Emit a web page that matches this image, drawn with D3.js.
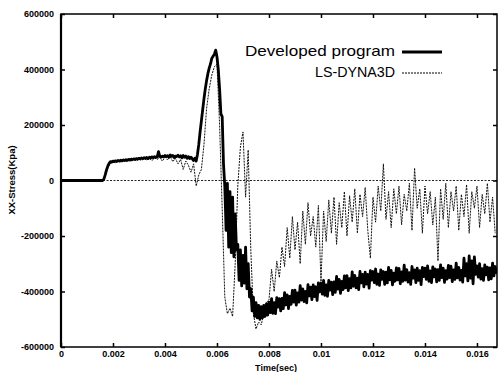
<!DOCTYPE html>
<html>
<head>
<meta charset="utf-8">
<script src="https://cdn.jsdelivr.net/npm/d3@7"></script>
<style>
  html, body { margin: 0; padding: 0; background: #fff; }
  svg { display: block; }
</style>
</head>
<body>
<div id="chart"></div>
<script>
// x ticks / y ticks
const timeTicks = [0, 0.002, 0.004, 0.006, 0.008, 0.01, 0.012, 0.014, 0.016];
const stressTicks = [-600000, -400000, -200000, 0, 200000, 400000, 600000];
const legendNames = ["Developed program", "LS-DYNA3D"];

// Developed program, sampled every 0.00005 s, values in thousands of kPa
const devStep = 0.00005;
const developedK = [
  0,0,0,0,0,0,0,0,0,0, 0,0,0,0,0,0,0,0,0,0, 0,0,0,0,0,0,0,0,0,0, 0,0,0,
  5,20,38,52,62,68,66,70,
  68,71,69,72,70,73,71,74,72,75,
  73,76,74,77,75,78,76,79,77,80,
  78,81,79,82,80,83,79,84,81,85,
  82,86,83,84,104,87,84,88,85,90,
  86,89,84,92,87,90,83,88,86,91,
  85,89,82,90,84,88,80,86,79,84,
  78,72,80,70,95,130,175,215,255,295,
  330,360,385,405,420,440,448,455,470,445,
  400,330,240,230,60,-20,-180,-10,-240,-40,
  -260,-60,-275,-120,-250,-230,-360,-250,-380,-270,
  -370,-240,-390,-300,-420,-390,-470,-420,-490,-440,
  -495,-450,-500,-455,-495,-450,-490,-445,-485,
  // 0.008 onward
  -438,-476,-426,-479,-440,-480,-422,-456,-426,-470,
  -425,-462,-404,-448,-412,-462,-418,-446,-396,-438,
  -395,-449,-405,-438,-379,-431,-391,-436,-400,-441,
  -375,-416,-384,-429,-376,-418,-383,-432,-369,-401,
  -370,-409,-360,-414,-376,-417,-360,-395,-366,-411,
  -365,-403,-346,-391,-356,-407,-364,-393,-344,-387,
  -343,-397,-354,-387,-329,-381,-342,-387,-352,-393,
  -328,-369,-338,-383,-330,-373,-338,-388,-325,-359,
  -328,-368,-319,-374,-337,-378,-322,-356,-328,-374,
  -330,-369,-313,-358,-324,-376,-334,-363,-315,-358,
  -317,-372,-329,-363,-305,-359,-321,-366,-332,-374,
  -310,-352,-322,-368,-316,-360,-325,-375,-313,-346,
  -316,-356,-308,-363,-326,-368,-311,-347,-319,-365,
  -321,-360,-304,-350,-316,-367,-325,-355,-306,-350,
  -309,-364,-322,-356,-298,-351,-313,-359,-324,-366,
  -280,-344,-300,-362,-272,-352,-290,-372,-275,-338,
  -308,-348,-300,-355,-318,-360,-304,-340,-312,-358,
  -315,-354,-298,-344,-310,-336
];

// LS-DYNA3D, sampled every 0.0001 s, values in thousands of kPa
const lsStep = 0.0001;
const lsDynaK = [
  0,0,0,0,0,0,0,0,0,0, 0,0,0,0,0,0,0,
  15,45,62,66,
  64,70,66,72,68,74,70,75,71,77,
  73,78,74,80,72,81,76,83,70,84,
  74,86,68,80,60,76,40,70,55,
  30,60,-20,20,40,130,260,330,380,410,
  420,200,-100,-420,-480,-460,-490,-300,-20,120,
  175,-60,110,-250,-480,-535,-510,-520,-480,-440,
  -430,-320,-400,-290,-350,-240,-310,-170,-280,-130,
  -250,-150,-300,-110,-230,-80,-200,-130,-240,-90,
  -365,-110,-220,-70,-190,-60,-230,-80,-170,-40,
  -200,-55,-150,-30,-190,-50,-130,-25,-180,-280,
  -60,-150,-20,-110,60,-140,-40,-170,-30,-120,
  -20,-160,-50,-110,-10,-180,45,-100,-30,-190,
  -20,-120,-40,-160,-60,-290,-30,-140,-10,-170,
  -40,-110,-20,-180,-50,-130,-15,-190,-40,-100,
  -20,-170,-50,-120,-10,-150,-60,-190
];

function createStressChart(container) {
  const width = 501;
  const height = 372;
  const plot = { left: 61, right: 497, top: 14, bottom: 347 };

  const x = d3.scaleLinear().domain([0, 0.01677]).range([plot.left, plot.right]);
  const y = d3.scaleLinear().domain([-600000, 600000]).range([plot.bottom, plot.top]);

  const svg = d3.select(container)
    .append("svg")
    .attr("width", width)
    .attr("height", height)
    .style("font-family", "'Liberation Sans', Arial, sans-serif");

  svg.append("rect").attr("width", width).attr("height", height).attr("fill", "#fff");

  svg.append("clipPath").attr("id", "plotClip")
    .append("rect")
    .attr("x", plot.left).attr("y", plot.top)
    .attr("width", plot.right - plot.left).attr("height", plot.bottom - plot.top);

  const dev = developedK.map((v, i) => [i * devStep, v * 1000]);
  const ls = lsDynaK.map((v, i) => [i * lsStep, v * 1000]);

  const line = d3.line().x(d => x(d[0])).y(d => y(d[1]));

  const g = svg.append("g").attr("clip-path", "url(#plotClip)");

  // zero reference line
  g.append("line")
    .attr("x1", plot.left).attr("x2", plot.right)
    .attr("y1", y(0)).attr("y2", y(0))
    .attr("stroke", "#222").attr("stroke-width", 1)
    .attr("stroke-dasharray", "2,1.5");

  g.append("path")
    .datum(ls)
    .attr("fill", "none")
    .attr("stroke", "#111")
    .attr("stroke-width", 1)
    .attr("stroke-dasharray", "2,1")
    .attr("d", line);

  g.append("path")
    .datum(dev)
    .attr("fill", "none")
    .attr("stroke", "#000")
    .attr("stroke-width", 2.8)
    .attr("stroke-linejoin", "round")
    .attr("d", line);

  // frame
  svg.append("rect")
    .attr("x", plot.left).attr("y", plot.top)
    .attr("width", plot.right - plot.left).attr("height", plot.bottom - plot.top)
    .attr("fill", "none").attr("stroke", "#000").attr("stroke-width", 1.5);
  svg.append("line")
    .attr("x1", plot.left).attr("x2", plot.left)
    .attr("y1", plot.top).attr("y2", plot.bottom)
    .attr("stroke", "#000").attr("stroke-width", 2.2);

  // axes with inward ticks
  const fmtX = d => d === 0 ? "0" : String(+d.toFixed(3));
  const axisBottom = d3.axisBottom(x).tickValues(timeTicks).tickSize(-4).tickPadding(4).tickFormat(fmtX);
  const axisTop = d3.axisTop(x).tickValues(timeTicks).tickSize(-4).tickFormat("");
  const axisLeft = d3.axisLeft(y).tickValues(stressTicks).tickSize(-4).tickPadding(7).tickFormat(d => String(d));
  const axisRight = d3.axisRight(y).tickValues(stressTicks).tickSize(-4).tickFormat("");

  const styleAxis = sel => {
    sel.select(".domain").remove();
    sel.selectAll(".tick line").attr("stroke", "#000").attr("stroke-width", 1.5);
    sel.selectAll("text").attr("fill", "#000").style("font-size", "9px").style("font-weight", "bold");
  };

  svg.append("g").attr("transform", `translate(0,${plot.bottom})`).call(axisBottom).call(styleAxis);
  svg.append("g").attr("transform", `translate(0,${plot.top})`).call(axisTop).call(styleAxis);
  svg.append("g").attr("transform", `translate(${plot.left},0)`).call(axisLeft).call(styleAxis);
  svg.append("g").attr("transform", `translate(${plot.right},0)`).call(axisRight).call(styleAxis);

  // axis titles
  svg.append("text")
    .attr("x", 276).attr("y", 370.5)
    .attr("text-anchor", "middle")
    .style("font-size", "9px").style("font-weight", "bold")
    .text("Time(sec)");

  svg.append("text")
    .attr("transform", `translate(15,180) rotate(-90)`)
    .attr("text-anchor", "middle")
    .style("font-size", "9.5px").style("font-weight", "bold")
    .text("XX-Stress(Kpa)");

  // legend
  const legendWidths = [150, 80];
  const legend = svg.append("g");
  legendNames.forEach((name, i) => {
    const ly = 51 + i * 21;
    legend.append("text")
      .attr("x", 395).attr("y", ly + 5)
      .attr("text-anchor", "end")
      .attr("textLength", legendWidths[i])
      .attr("lengthAdjust", "spacingAndGlyphs")
      .style("font-size", "15px")
      .text(name);
    legend.append("line")
      .attr("x1", 402).attr("x2", 442)
      .attr("y1", ly + 1).attr("y2", ly + 1)
      .attr("stroke", "#000")
      .attr("stroke-width", i === 0 ? 2.8 : 1)
      .attr("stroke-dasharray", i === 0 ? null : "2,1");
  });
}

createStressChart(document.getElementById("chart"));
</script>
</body>
</html>
